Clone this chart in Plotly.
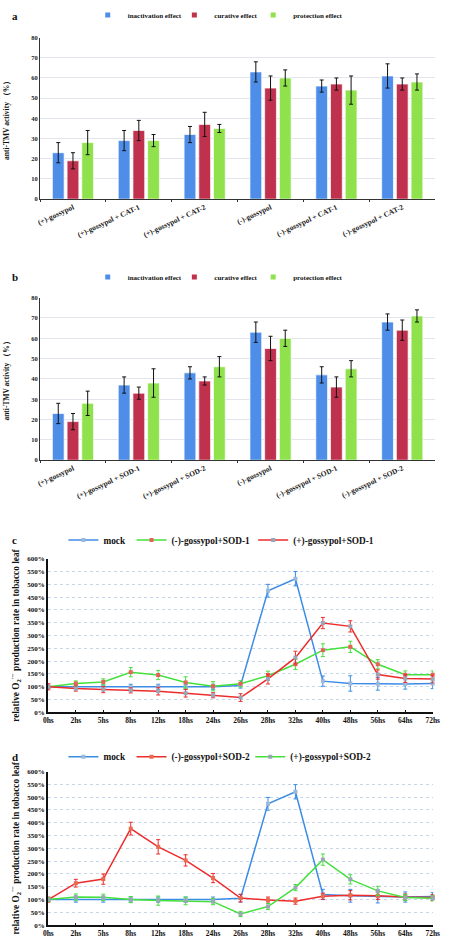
import plotly.graph_objects as go

# ---------------- data ----------------
groups_a = ["(+)-gossypol", "(+)-gossypol + CAT-1", "(+)-gossypol + CAT-2",
            "(-)-gossypol", "(-)-gossypol + CAT-1", "(-)-gossypol + CAT-2"]
a_inact = [23, 29, 32, 63, 56, 61]
a_inact_err = [5, 5, 4, 5, 3, 6]
a_cur = [19, 34, 37, 55, 57, 57]
a_cur_err = [4, 5, 6, 6, 3, 3]
a_prot = [28, 29, 35, 60, 54, 58]
a_prot_err = [6, 3, 2, 4, 7, 4]

groups_b = ["(+)-gossypol", "(+)-gossypol + SOD-1", "(+)-gossypol + SOD-2",
            "(-)-gossypol", "(-)-gossypol + SOD-1", "(-)-gossypol + SOD-2"]
b_inact = [23, 37, 43, 63, 42, 68]
b_inact_err = [5, 4, 3, 5, 4, 4]
b_cur = [19, 33, 39, 55, 36, 64]
b_cur_err = [4, 3, 2, 6, 5, 5]
b_prot = [28, 38, 46, 60, 45, 71]
b_prot_err = [6, 7, 5, 4, 4, 3]

times = ["0hs", "2hs", "5hs", "8hs", "12hs", "18hs", "24hs", "26hs",
         "28hs", "32hs", "40hs", "48hs", "56hs", "64hs", "72hs"]

c_mock = [100, 100, 100, 100, 100, 100, 100, 105, 475, 522, 122, 113, 112, 111, 113]
c_mock_err = [5, 8, 8, 10, 10, 10, 10, 10, 25, 28, 20, 30, 25, 20, 20]
c_minus = [100, 113, 119, 157, 146, 117, 102, 112, 143, 188, 243, 256, 188, 147, 147]
c_minus_err = [5, 10, 12, 18, 18, 22, 18, 12, 18, 20, 25, 22, 18, 15, 15]
c_plus = [100, 93, 89, 86, 83, 75, 67, 58, 131, 214, 349, 336, 148, 132, 130]
c_plus_err = [12, 10, 12, 10, 15, 15, 10, 15, 20, 25, 22, 22, 18, 15, 15]

d_mock = [100, 100, 100, 100, 100, 100, 100, 105, 474, 521, 120, 115, 112, 110, 112]
d_mock_err = [5, 10, 10, 10, 10, 10, 10, 15, 25, 28, 20, 25, 25, 20, 15]
d_minus = [100, 164, 180, 377, 306, 253, 184, 106, 98, 94, 113, 117, 115, 110, 108]
d_minus_err = [10, 15, 20, 25, 28, 22, 18, 15, 12, 12, 12, 18, 15, 12, 12]
d_plus = [100, 110, 109, 100, 96, 95, 92, 44, 73, 147, 256, 179, 134, 108, 105]
d_plus_err = [8, 12, 12, 12, 18, 15, 12, 10, 12, 12, 22, 18, 18, 12, 10]

bar_names = ["inactivation effect", "curative effect", "protection effect"]
bar_colors = ["#4F8EE8", "#C0314E", "#8FE24B"]
c_names = ["mock", "(-)-gossypol+SOD-1", "(+)-gossypol+SOD-1"]
d_names = ["mock", "(-)-gossypol+SOD-2", "(+)-gossypol+SOD-2"]
BLUE, GREEN, RED = "#3C8CE6", "#44E03C", "#EE2C2C"

# ---------------- layout helpers ----------------
W, H = 449, 943
FONT = "Liberation Serif"


def px_x(p):
    return p / W


def px_y(p):
    return 1 - p / H


fig = go.Figure()
legend_defs = []  # (legend id, text x px, y px, font size)
leg_counter = [0]


def next_legend(text_x, y, size):
    leg_counter[0] += 1
    lid = "legend" if leg_counter[0] == 1 else "legend%d" % leg_counter[0]
    legend_defs.append((lid, text_x, y, size))
    return lid


# bar panels
for (groups, series, xa, ya, leg_y) in [
    (groups_a, [(a_inact, a_inact_err), (a_cur, a_cur_err), (a_prot, a_prot_err)], "x", "y", 5),
    (groups_b, [(b_inact, b_inact_err), (b_cur, b_cur_err), (b_prot, b_prot_err)], "x2", "y2", 271),
]:
    for name, col, (vals, errs), tx in zip(bar_names, bar_colors, series, [130, 219, 300]):
        fig.add_trace(go.Bar(
            x=groups, y=vals, name=name, xaxis=xa, yaxis=ya, showlegend=False,
            marker=dict(color=col, line=dict(color="rgba(255,255,255,0.7)", width=1)),
            error_y=dict(type="data", array=errs, color="#111111", thickness=1, width=2),
        ))
        # legend entry (small square swatch, as in the reference)
        fig.add_trace(go.Scatter(
            x=[None], y=[None], name=name, xaxis=xa, yaxis=ya, mode="markers",
            marker=dict(symbol="square", size=5, color=col),
            legend=next_legend(tx, leg_y, 7),
        ))

# line panels
line_specs = [
    ("x3", "y3", 538, [
        (c_names[0], c_mock, c_mock_err, BLUE, "#9DB8D8", 105),
        (c_names[1], c_minus, c_minus_err, GREEN, "#E8605A", 175),
        (c_names[2], c_plus, c_plus_err, RED, "#9AA7B8", 300),
    ]),
    ("x4", "y4", 758, [
        (d_names[0], d_mock, d_mock_err, BLUE, "#9DB8D8", 105),
        (d_names[1], d_minus, d_minus_err, RED, "#E86A50", 175),
        (d_names[2], d_plus, d_plus_err, GREEN, "#9AA7B8", 297),
    ]),
]
for xa, ya, leg_y, traces in line_specs:
    for name, vals, errs, col, mcol, tx in traces:
        fig.add_trace(go.Scatter(
            x=times, y=vals, name=name, xaxis=xa, yaxis=ya,
            mode="lines+markers", cliponaxis=False,
            line=dict(color=col, width=1.5),
            marker=dict(symbol="square", size=4, color=mcol),
            error_y=dict(type="data", array=errs, color=col, thickness=1, width=2),
            legend=next_legend(tx, leg_y, 9.3),
        ))

tick_bold = dict(family=FONT, weight="bold", color="#222222")

bar_x = dict(showline=True, linecolor="#333333", linewidth=1, ticks="outside",
             ticklen=2, tickcolor="#333333", tickson="boundaries", tickangle=-25,
             tickfont=dict(tick_bold, size=7.5), showgrid=False)
bar_y = dict(range=[0, 80], dtick=10, showline=True, linecolor="#333333", linewidth=1,
             showgrid=True, gridcolor="#E2E6EC", gridwidth=1, zeroline=False,
             tickfont=dict(tick_bold, size=6.5), ticks="",
             title=dict(text="anti-TMV activity （%）", font=dict(tick_bold, size=7.5, color="#111111"), standoff=20))

line_x = dict(range=[-0.02, 14.02], showline=True, linecolor="#111111", linewidth=2,
              ticks="inside", ticklen=2, tickcolor="#111111", showgrid=False,
              tickfont=dict(tick_bold, size=7.5, color="#111111"), tickangle=0)
line_y = dict(range=[0, 600], dtick=50, ticksuffix="%", showline=True, linecolor="#111111",
              linewidth=1.5, showgrid=True, gridcolor="#C6D6E8", griddash="dot", gridwidth=1,
              zeroline=False, tickfont=dict(tick_bold, size=7, color="#111111"),
              title=dict(text="relative O<sub>2</sub><sup>·−</sup> production rate in tobacco leaf",
                         font=dict(tick_bold, size=9.3, color="#111111"), standoff=6))

fig.update_layout(
    width=W, height=H, margin=dict(l=0, r=0, t=0, b=0),
    paper_bgcolor="white", plot_bgcolor="white",
    barmode="group", bargap=0.33, bargroupgap=0.2,
    xaxis=dict(bar_x, domain=[px_x(36), px_x(442)], anchor="y"),
    yaxis=dict(bar_y, domain=[px_y(192), px_y(28)], anchor="x"),
    xaxis2=dict(bar_x, domain=[px_x(36), px_x(442)], anchor="y2"),
    yaxis2=dict(bar_y, domain=[px_y(457), px_y(292)], anchor="x2"),
    xaxis3=dict(line_x, domain=[px_x(44), px_x(440)], anchor="y3"),
    yaxis3=dict(line_y, domain=[px_y(713), px_y(557)], anchor="x3"),
    xaxis4=dict(line_x, domain=[px_x(44), px_x(440)], anchor="y4"),
    yaxis4=dict(line_y, domain=[px_y(929), px_y(773)], anchor="x4"),
    showlegend=True,
)

# one small legend per entry so each sits where the reference places it
legend_layout = {}
for lid, tx, ly, size in legend_defs:
    legend_layout[lid] = dict(
        orientation="h", xanchor="left", yanchor="middle",
        x=px_x(tx - 45), y=px_y(ly), itemwidth=30,
        bgcolor="rgba(0,0,0,0)", borderwidth=0,
        font=dict(tick_bold, size=size, color="#111111"),
    )
fig.update_layout(**legend_layout)

for lab, yp in [("a", 6), ("b", 271), ("c", 538), ("d", 758)]:
    fig.add_annotation(text=lab, x=px_x(10), y=px_y(yp), xref="paper", yref="paper",
                       showarrow=False, xanchor="center", yanchor="middle",
                       font=dict(family=FONT, weight="bold", size=11, color="#111111"))

# remove the browser's default page margin so the figure fills the window exactly
fig.write_html("out.html", config={"displayModeBar": False},
               post_script="document.body.style.margin='0';document.body.style.overflow='hidden';")
